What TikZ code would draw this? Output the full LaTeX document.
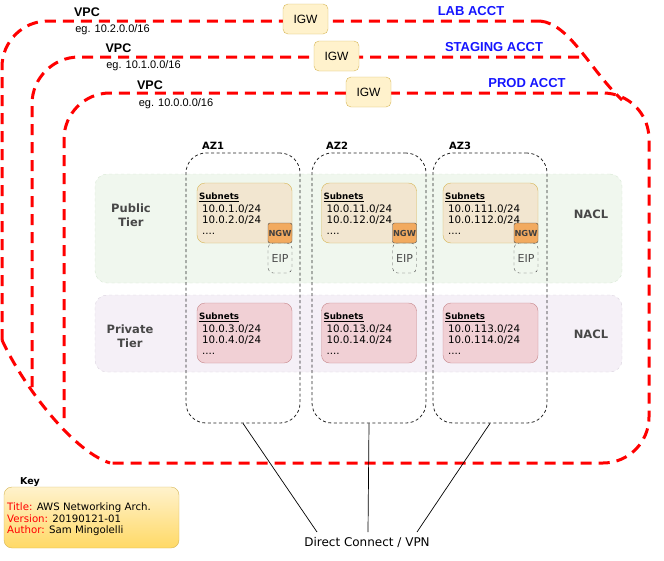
\documentclass[tikz,border=0pt]{standalone}
\usepackage{fontspec}
\setmainfont{Liberation Sans}
\newfontfamily\dv{DejaVu Sans}
\usetikzlibrary{calc}
\definecolor{acctblue}{HTML}{1515FF}
\definecolor{igwfill}{HTML}{FFF2CC}
\definecolor{igwdraw}{HTML}{D6B656}
\definecolor{pubband}{HTML}{F0F7EE}
\definecolor{pubbanddraw}{HTML}{D6E6D2}
\definecolor{privband}{HTML}{F5F0F7}
\definecolor{privbanddraw}{HTML}{D9D1DE}
\definecolor{pubsubfill}{HTML}{F2E6D0}
\definecolor{privsubfill}{HTML}{F1D0D5}
\definecolor{privsubdraw}{HTML}{C6878B}
\definecolor{ngwfill}{HTML}{F2AA5F}
\definecolor{tiertext}{HTML}{474747}
\definecolor{keytop}{HTML}{FFF2CC}
\definecolor{keybot}{HTML}{FFD966}
\begin{document}
\begin{tikzpicture}[x=1pt,y=-1pt,
  acct/.style={draw=red, line width=3pt, dash pattern=on 11pt off 7pt},
  igwbox/.style={draw=igwdraw, fill=igwfill, rounded corners=5pt, minimum width=45pt, minimum height=30pt, inner sep=0pt, font=\fontsize{12}{14}\selectfont},
  acctlbl/.style={text=acctblue, font=\fontsize{13}{15}\selectfont\bfseries, inner sep=0pt},
  vpclbl/.style={font=\fontsize{12.5}{14}\selectfont\bfseries, inner sep=0pt},
  eglbl/.style={font=\fontsize{11}{13}\selectfont, inner sep=0pt},
  bandpub/.style={draw=pubbanddraw, fill=pubband, dashed, rounded corners=12pt, minimum width=527pt, minimum height=109pt, inner sep=0pt},
  bandpriv/.style={draw=privbanddraw, fill=privband, dashed, rounded corners=12pt, minimum width=527pt, minimum height=77pt, inner sep=0pt},
  azbox/.style={draw=black!85, line width=0.8pt, dash pattern=on 3pt off 2.5pt, rounded corners=20pt, minimum width=114pt, minimum height=270pt, inner sep=0pt},
  azlbl/.style={font=\dv\fontsize{10}{12}\selectfont\bfseries, inner sep=0pt},
  tierlbl/.style={text=tiertext, font=\dv\fontsize{11.5}{13.5}\selectfont\bfseries, align=center, inner sep=0pt},
  pubsub/.style={draw=igwdraw, fill=pubsubfill, rounded corners=8pt, minimum width=95pt, minimum height=60pt, inner sep=0pt},
  privsub/.style={draw=privsubdraw, fill=privsubfill, rounded corners=8pt, minimum width=95pt, minimum height=60pt, inner sep=0pt},
  subhead/.style={font=\dv\fontsize{8.7}{10}\selectfont\bfseries, anchor=base west, inner sep=0pt},
  subline/.style={font=\dv\fontsize{10.3}{12}\selectfont, anchor=base west, inner sep=0pt},
  ngwbox/.style={draw=black!70, fill=ngwfill, rounded corners=2pt, minimum width=24pt, minimum height=20pt, inner sep=0pt, text=black!75, font=\dv\fontsize{8.3}{9}\selectfont\bfseries},
  eipbox/.style={draw=black!70, dashed, rounded corners=5pt, minimum width=24pt, minimum height=30pt, inner sep=0pt, text=black!70, font=\dv\fontsize{11}{13}\selectfont},
  keytxt/.style={font=\dv\fontsize{10.2}{12}\selectfont, anchor=base west, inner sep=0pt}
]
\useasboundingbox (0,0) rectangle (664,560);

% ---- account outlines ----
\draw[acct, rounded corners=46pt] (2,340) -- (2,21) -- (540,21);
\draw[acct] (540,21) .. controls (570,24) and (590,70) .. (622,100);
\draw[acct] (2,340) .. controls (20,380) and (70,450) .. (110,463);
\draw[acct, rounded corners=47pt] (32,387) -- (32,57) -- (580,57);
\draw[acct, rounded corners=46pt] (64,418) -- (64,93) -- (649,93) -- (649,463) -- (110,463);

% ---- IGWs ----
\node[igwbox] (igw1) at (305.5,19) {IGW};
\node[igwbox] (igw2) at (336.5,56) {IGW};
\node[igwbox] (igw3) at (368.5,92) {IGW};

% ---- account labels ----
\node[acctlbl] (lab) at (471,11) {LAB ACCT};
\node[acctlbl] (stg) at (494,47) {STAGING ACCT};
\node[acctlbl] (prod) at (527,83) {PROD ACCT};

% ---- VPC labels ----
\node[vpclbl] (vpc1) at (87,12) {VPC};
\node[eglbl] (eg1) at (112.5,30) {eg. 10.2.0.0/16};
\node[vpclbl] (vpc2) at (118.5,48) {VPC};
\node[eglbl] (eg2) at (143.5,66) {eg. 10.1.0.0/16};
\node[vpclbl] (vpc3) at (150,85) {VPC};
\node[eglbl] (eg3) at (176,103.5) {eg. 10.0.0.0/16};

% ---- tiers ----
\node[bandpub] (pub) at (358.5,228.5) {};
\node[bandpriv] (priv) at (358.5,333.5) {};
\node[tierlbl] (publbl) at (131,215) {Public\\Tier};
\node[tierlbl] (privlbl) at (130,336) {Private\\Tier};
\node[tierlbl] (nacl1) at (591,214) {NACL};
\node[tierlbl] (nacl2) at (591,334) {NACL};

% ---- AZs ----
\node[azbox] (az1) at (243,288) {};
\node[azbox] (az2) at (369,288) {};
\node[azbox] (az3) at (490,288) {};
\node[azlbl] (az1l) at (213,146) {AZ1};
\node[azlbl] (az2l) at (337,146) {AZ2};
\node[azlbl] (az3l) at (460,146) {AZ3};

% ---- subnets ----
\foreach \n/\cx/\a/\b/\c/\d in {1/244.5/1/2/3/4, 2/369/11/12/13/14, 3/490.5/111/112/113/114}{
  \node[pubsub] (ps\n) at (\cx,213) {};
  \node[subhead] (psh\n) at ($(ps\n.north west)+(2,17)$) {\underline{Subnets}};
  \node[subline] (psa\n) at ($(ps\n.north west)+(5,30)$) {10.0.\a.0/24};
  \node[subline] (psb\n) at ($(ps\n.north west)+(5,41)$) {10.0.\b.0/24};
  \node[subline] (psc\n) at ($(ps\n.north west)+(5,52)$) {....};
  \node[eipbox] (eip\n) at (\cx+35.5,258) {EIP};
  \node[ngwbox] (ngw\n) at (\cx+35.5,233) {NGW};
  \node[privsub] (rs\n) at (\cx,333) {};
  \node[subhead] (rsh\n) at ($(rs\n.north west)+(2,16.5)$) {\underline{Subnets}};
  \node[subline] (rsa\n) at ($(rs\n.north west)+(5,29.5)$) {10.0.\c.0/24};
  \node[subline] (rsb\n) at ($(rs\n.north west)+(5,41)$) {10.0.\d.0/24};
  \node[subline] (rsc\n) at ($(rs\n.north west)+(5,52)$) {....};
}

% ---- Direct connect ----
\node[font=\dv\fontsize{12}{14}\selectfont, inner sep=0pt] (dc) at (367,542) {Direct Connect / VPN};
\coordinate (c1) at (317,532);
\coordinate (c2) at (368,532);
\coordinate (c3) at (417,532);
\draw[black, line width=0.7pt] (az1.south) -- (c1);
\draw[black, line width=0.7pt] (az2.south) -- (c2);
\draw[black, line width=0.7pt] (az3.south) -- (c3);

% ---- key ----
\node[font=\dv\fontsize{9.5}{11}\selectfont\bfseries, inner sep=0pt] (keyl) at (30,482) {Key};
\node[draw=igwdraw, top color=keytop, bottom color=keybot, rounded corners=8pt, minimum width=175pt, minimum height=61pt, inner sep=0pt] (key) at (91.5,517.5) {};
\node[keytxt] (k1) at (7,510) {\textcolor{red}{Title:} AWS Networking Arch.};
\node[keytxt] (k2) at (7,522) {\textcolor{red}{Version:} 20190121-01};
\node[keytxt] (k3) at (7,533) {\textcolor{red}{Author:} Sam Mingolelli};
\end{tikzpicture}
\end{document}
